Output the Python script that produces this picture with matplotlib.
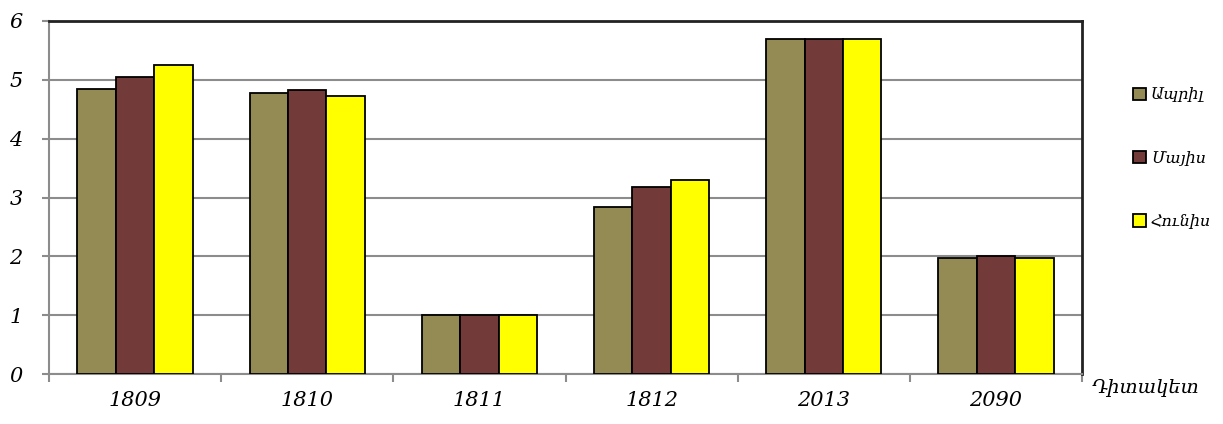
import matplotlib.pyplot as plt
import numpy as np
from matplotlib.patches import Patch

categories = ['1809', '1810', '1811', '1812', '2013', '2090']
april = [4.85, 4.78, 1.0, 2.84, 5.7, 1.97]
may = [5.05, 4.82, 1.0, 3.17, 5.7, 2.0]
june = [5.25, 4.72, 1.0, 3.3, 5.7, 1.97]
series_names = ['Ապրիլ', 'Մայիս', 'Հունիս']
colors = ['#948A54', '#733A3A', '#FFFF00']

plt.rcParams['font.family'] = ['DejaVu Serif']
plt.rcParams['font.style'] = 'italic'

fig = plt.figure(figsize=(12.23, 4.24), dpi=100)
ax = fig.add_axes([49 / 1223, 1 - 374 / 424, (1082 - 49) / 1223, (374 - 21) / 424])

x = np.arange(len(categories))
w = 0.223
for i, (vals, c) in enumerate(zip([april, may, june], colors)):
    ax.bar(x + (i - 1) * w, vals, w, color=c, edgecolor='black', linewidth=1.3, zorder=3)

ax.set_xlim(-0.5, len(categories) - 0.5)
ax.set_ylim(0, 6)
ax.set_yticks(range(7))
ax.yaxis.grid(True, color='#8c8c8c', linewidth=1.5, zorder=0)

ax.set_xticks(x)
ax.set_xticklabels(categories, fontsize=15)
ax.set_xticks(np.arange(-0.5, len(categories)), minor=True)
ax.tick_params(axis='x', which='major', length=0, pad=12)
ax.tick_params(axis='x', which='minor', length=6, color='#8c8c8c', width=1.5)
ax.tick_params(axis='y', length=5, color='#8c8c8c', width=1.5, labelsize=15, pad=14)

ax.spines['left'].set_color('#8c8c8c')
ax.spines['bottom'].set_color('#8c8c8c')
ax.spines['left'].set_linewidth(1.5)
ax.spines['bottom'].set_linewidth(1.5)
ax.spines['top'].set_color('#222222')
ax.spines['right'].set_color('#222222')
ax.spines['top'].set_linewidth(2)
ax.spines['right'].set_linewidth(2)

fig.text(1092 / 1223, 1 - 388 / 424, 'Դիտակետ', fontsize=14, ha='left', va='center')

handles = [Patch(facecolor=c, edgecolor='black', linewidth=1.3) for c in colors]
fig.legend(handles, series_names, loc='upper left', bbox_to_anchor=(1119 / 1223, 1 - 72 / 424),
           frameon=False, fontsize=11.5, handlelength=0.8, handleheight=0.8,
           handletextpad=0.3, labelspacing=2.9)

fig.savefig('out.png', dpi=100)
